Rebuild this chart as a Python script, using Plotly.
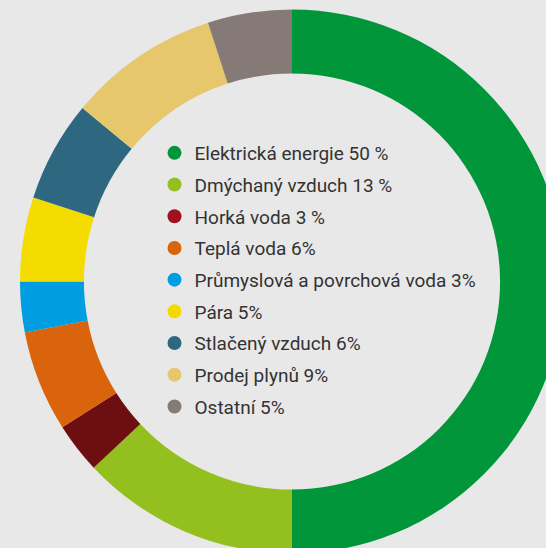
import plotly.graph_objects as go

labels = ["Elektrická energie 50 %", "Dmýchaný vzduch 13 %", "Horká voda 3 %", "Teplá voda 6%",
          "Průmyslová a povrchová voda 3%", "Pára 5%", "Stlačený vzduch 6%", "Prodej plynů 9%", "Ostatní 5%"]
values = [50, 13, 3, 6, 3, 5, 6, 9, 5]
ring_colors = ["#009639", "#93c01f", "#6d0e10", "#d9640c", "#009ee0", "#f5dc00", "#2e6880", "#e6c76b", "#857a75"]
legend_colors = ["#009639", "#93c01f", "#a0101f", "#d9640c", "#009ee0", "#f2d900", "#2e6880", "#e6c76b", "#857a75"]

W, H = 584, 563
cx, cy, R = 292, 281.5, 272

fig = go.Figure()
fig.add_trace(go.Pie(
    labels=labels, values=values, sort=False, direction="clockwise", rotation=0,
    hole=0.765, marker=dict(colors=ring_colors, line=dict(width=0)),
    textinfo="none", hoverinfo="label", showlegend=False,
    domain=dict(x=[(cx - R) / W, (cx + R) / W], y=[(H - cy - R) / H, (H - cy + R) / H]),
))
for i, (lab, col) in enumerate(zip(labels, legend_colors)):
    fig.add_trace(go.Scatter(
        x=[None], y=[None], mode="markers", name=lab, legendgroup=str(i),
        marker=dict(symbol="circle", size=14, color=col),
    ))

fig.update_layout(
    width=W, height=H, autosize=False,
    margin=dict(l=0, r=0, t=0, b=0),
    paper_bgcolor="#e8e8e8", plot_bgcolor="#e8e8e8",
    xaxis=dict(visible=False), yaxis=dict(visible=False),
    showlegend=True,
    legend=dict(x=154.5 / W, xanchor="left", y=1 - 134 / H, yanchor="top",
                bgcolor="rgba(0,0,0,0)", font=dict(family="Roboto", size=19, color="#333333"),
                tracegroupgap=4, traceorder="grouped"),
)

fig.write_html("out.html", config={"displayModeBar": False},
               post_script="document.body.style.margin='0';document.body.style.overflow='hidden';document.documentElement.style.overflow='hidden';")
